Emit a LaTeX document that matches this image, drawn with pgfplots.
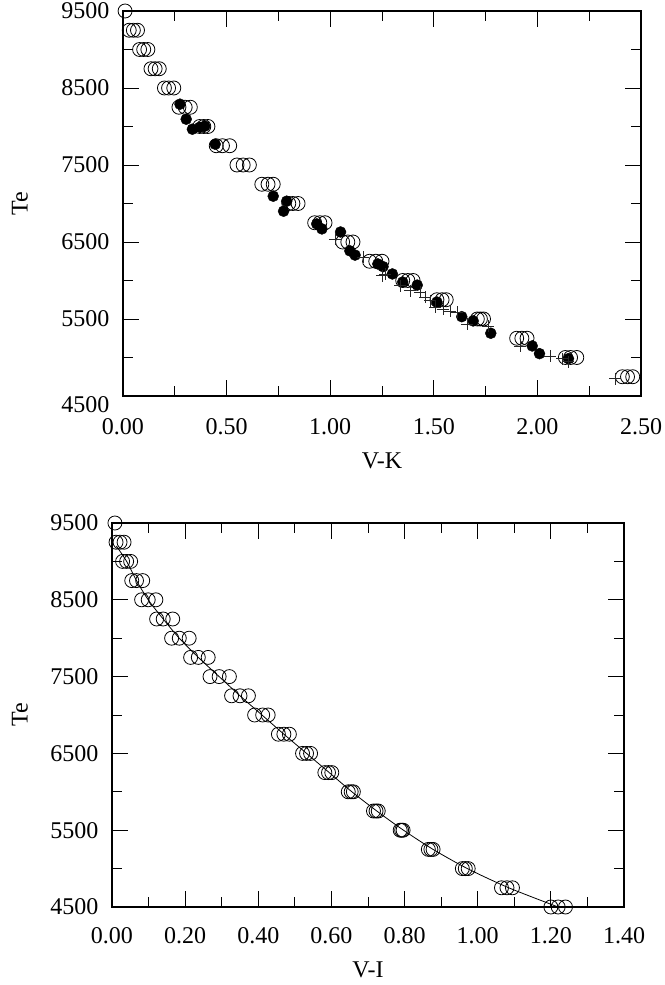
\documentclass[border=0pt]{standalone}
\usepackage{fontspec}
\setmainfont{Liberation Serif}
\usepackage{pgfplots}
\pgfplotsset{compat=1.18}
\pgfplotsset{
  mystyle/.style={
    scale only axis, clip=false,
    axis line style={line width=1.6pt},
    tick align=inside,
    major tick length=16pt, minor tick length=10pt,
    every tick/.style={line width=0.8pt, black},
    ymin=4500, ymax=9500,
    ytick={5500,6500,7500,8500,9500},
    minor ytick={5000,6000,7000,8000,9000},
    extra y ticks={4500},
    scaled ticks=false,
    /pgf/number format/assume math mode=true,
    tick label style={font=\fontsize{24}{24}\selectfont},
    label style={font=\fontsize{24}{24}\selectfont},
    yticklabel style={/pgf/number format/1000 sep={}, anchor=east, xshift=-10pt},
    xticklabel style={/pgf/number format/.cd, fixed, fixed zerofill, precision=2, /tikz/.cd, anchor=base},
    openc/.style={only marks, mark=o, mark size=7pt, mark options={line width=0.8pt, black}},
    filledc/.style={only marks, mark=*, mark size=5.5pt, mark options={black, fill=black}},
    plusm/.style={only marks, mark=+, mark size=6pt, mark options={line width=0.8pt, black!85}},
  }
}
\begin{document}
\begin{tikzpicture}[x=1pt,y=1pt]
\path[use as bounding box] (0,0) rectangle (664,985);
% ---------- top panel ----------
\begin{axis}[mystyle,
  at={(123pt,589pt)}, anchor=south west, width=518pt, height=385pt,
  xmin=0, xmax=2.5,
  xtick={0,0.5,1,1.5,2,2.5}, minor xtick={0.25,0.75,1.25,1.75,2.25},
  xticklabel style={yshift=-39pt},
  extra y tick style={yticklabel style={yshift=-9pt}},
  xlabel={V-K}, ylabel={Te},
  xlabel style={at={(axis description cs:0.5,-0.169)}, anchor=center},
  ylabel style={at={(axis description cs:-0.199,0.5)}, anchor=center},
]
\addplot[openc] coordinates {
(0.01,9500)
(0.03,9250)(0.05,9250)(0.07,9250)
(0.08,9000)(0.10,9000)(0.12,9000)
(0.135,8750)(0.155,8750)(0.175,8750)
(0.20,8500)(0.22,8500)(0.245,8500)
(0.27,8250)(0.30,8250)(0.325,8250)
(0.37,8000)(0.39,8000)(0.41,8000)
(0.45,7750)(0.48,7750)(0.515,7750)
(0.55,7500)(0.58,7500)(0.61,7500)
(0.67,7250)(0.70,7250)(0.725,7250)
(0.80,7000)(0.82,7000)(0.845,7000)
(0.925,6750)(0.95,6750)(0.975,6750)
(1.06,6500)(1.085,6500)(1.11,6500)
(1.19,6250)(1.22,6250)(1.25,6250)
(1.35,6000)(1.375,6000)(1.40,6000)
(1.515,5750)(1.54,5750)(1.56,5750)
(1.71,5500)(1.725,5500)(1.74,5500)
(1.90,5250)(1.925,5250)(1.95,5250)
(2.135,5000)(2.16,5000)(2.19,5000)
(2.41,4750)(2.435,4750)(2.46,4750)
};
\addplot[filledc] coordinates {
(0.275,8290)(0.305,8095)(0.335,7965)(0.37,7990)(0.395,8005)
(0.445,7770)(0.725,7095)(0.79,7030)(0.775,6900)(0.935,6735)
(0.96,6670)(1.05,6630)(1.095,6385)(1.12,6330)(1.23,6215)
(1.255,6180)(1.30,6085)(1.35,5980)(1.42,5940)(1.515,5720)
(1.635,5530)(1.69,5475)(1.775,5315)(1.975,5150)(2.01,5050)
(2.15,4985)
};
\addplot[plusm] coordinates {
(1.023,6540)(1.158,6305)(1.25,6060)(1.264,6085)(1.337,5930)
(1.385,5865)(1.433,5850)(1.458,5785)(1.482,5735)(1.506,5655)
(1.544,5630)(1.578,5605)(1.612,5590)(1.66,5435)(1.762,5410)
(1.916,5150)(2.061,5020)(2.119,4985)(2.148,4945)(2.375,4725)
};
\end{axis}
% ---------- bottom panel ----------
\begin{axis}[mystyle,
  at={(112pt,78pt)}, anchor=south west, width=512pt, height=384pt,
  xmin=0, xmax=1.4,
  xtick={0,0.2,0.4,0.6,0.8,1.0,1.2,1.4}, minor xtick={0.1,0.3,0.5,0.7,0.9,1.1,1.3},
  xticklabel style={yshift=-36pt},
  xlabel={V-I}, ylabel={Te},
  xlabel style={at={(axis description cs:0.5,-0.164)}, anchor=center},
  ylabel style={at={(axis description cs:-0.18,0.5)}, anchor=center},
]
\addplot[black, line width=0.8pt, smooth, no marks] coordinates {
(0.012,9200)(0.04,9000)(0.067,8750)(0.099,8500)(0.140,8250)
(0.184,8000)(0.236,7750)(0.293,7500)(0.35,7250)(0.41,7000)
(0.47,6750)(0.532,6500)(0.594,6250)(0.656,6000)(0.724,5750)
(0.797,5500)(0.878,5250)(0.972,5000)(1.085,4750)(1.22,4500)
};
\addplot[openc] coordinates {
(0.008,9500)
(0.011,9250)(0.022,9250)(0.033,9250)
(0.029,9000)(0.040,9000)(0.051,9000)
(0.054,8750)(0.067,8750)(0.084,8750)
(0.081,8500)(0.099,8500)(0.12,8500)
(0.122,8250)(0.140,8250)(0.166,8250)
(0.163,8000)(0.184,8000)(0.211,8000)
(0.215,7750)(0.236,7750)(0.263,7750)
(0.268,7500)(0.293,7500)(0.321,7500)
(0.327,7250)(0.35,7250)(0.373,7250)
(0.39,7000)(0.412,7000)(0.427,7000)
(0.455,6750)(0.47,6750)(0.485,6750)
(0.521,6500)(0.532,6500)(0.543,6500)
(0.582,6250)(0.592,6250)(0.601,6250)
(0.646,6000)(0.654,6000)(0.66,6000)
(0.715,5750)(0.722,5750)(0.728,5750)
(0.788,5500)(0.792,5500)(0.796,5500)
(0.865,5250)(0.872,5250)(0.878,5250)
(0.958,5000)(0.966,5000)(0.974,5000)
(1.065,4750)(1.08,4750)(1.095,4750)
(1.20,4500)(1.22,4500)(1.24,4500)
};
\end{axis}
\end{tikzpicture}
\end{document}
